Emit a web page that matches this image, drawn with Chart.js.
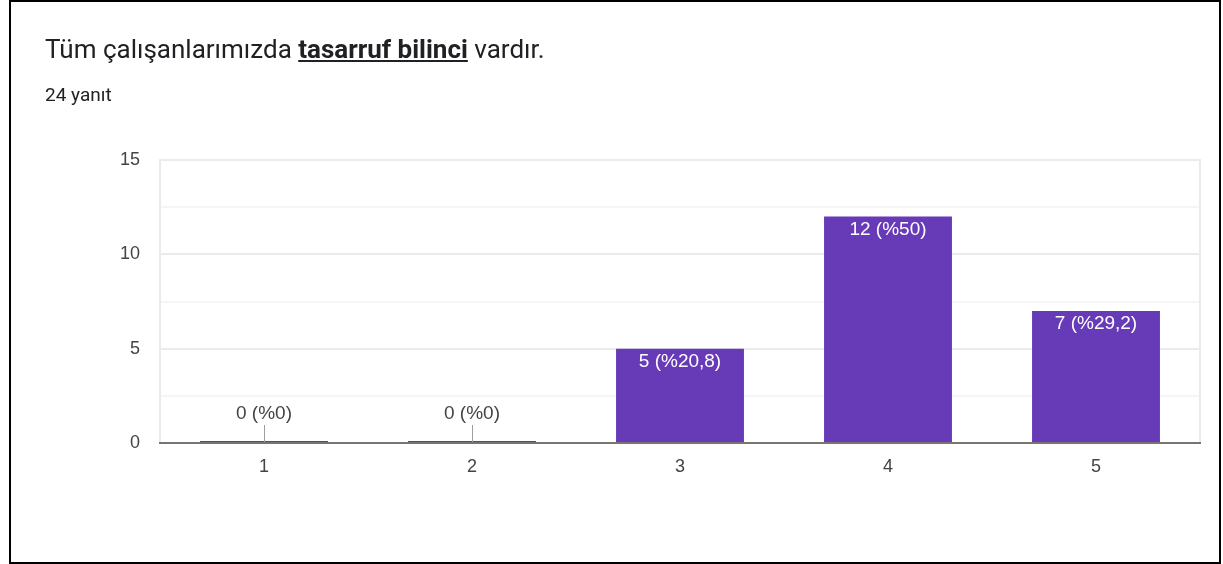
<!DOCTYPE html>
<html><head><meta charset="utf-8">
<script src="https://cdn.jsdelivr.net/npm/chart.js@4/dist/chart.umd.min.js"></script>
<style>
html,body{margin:0;padding:0;background:#fff;}
#frame{position:absolute;left:9px;top:0;width:1208px;height:560px;border:2px solid #000;box-sizing:content-box;}
#title{position:absolute;left:45px;top:33px;font-family:Roboto,sans-serif;font-size:26px;line-height:32px;color:#202124;white-space:nowrap;}
#title b{text-decoration:underline;font-weight:700;}
#sub{position:absolute;left:45px;top:83px;font-family:Roboto,sans-serif;font-size:19px;line-height:24px;color:#202124;}
#wrap{position:absolute;left:0;top:0;width:1223px;height:564px;}
</style></head>
<body>
<div id="frame"></div>
<div id="wrap"><canvas id="c" width="1223" height="564"></canvas></div>
<div id="title">Tüm çalışanlarımızda <b>tasarruf bilinci</b> vardır.</div>
<div id="sub">24 yanıt</div>
<script>
const categories = ['1','2','3','4','5'];
const counts = [0, 0, 5, 12, 7];
const yTicks = [0, 5, 10, 15];
const total = counts.reduce((a,b)=>a+b,0);

function pctLabel(v){
  let p = (v/total*100).toFixed(1).replace('.', ',');
  if (p.endsWith(',0')) p = p.slice(0,-2);
  return v + ' (%' + p + ')';
}

const FONT = '"Liberation Sans", Arial, sans-serif';

const labelPlugin = {
  id:'barLabels',
  afterDatasetsDraw(chart){
    const ctx = chart.ctx;
    const meta = chart.getDatasetMeta(0);
    const yScale = chart.scales.y;
    ctx.save();
    ctx.font = '19px ' + FONT;
    ctx.textAlign = 'center';
    ctx.textBaseline = 'middle';
    meta.data.forEach((bar,i)=>{
      const v = counts[i];
      const txt = pctLabel(v);
      if (v === 0){
        const base = yScale.getPixelForValue(0);
        ctx.strokeStyle = '#9e9e9e';
        ctx.lineWidth = 1;
        ctx.beginPath();
        ctx.moveTo(Math.round(bar.x)+0.5, base-1);
        ctx.lineTo(Math.round(bar.x)+0.5, base-18);
        ctx.stroke();
        ctx.fillStyle = '#444';
        ctx.fillText(txt, bar.x, base-29);
      } else {
        ctx.fillStyle = '#fff';
        ctx.fillText(txt, bar.x, bar.y+13);
      }
    });
    ctx.restore();
  }
};

new Chart(document.getElementById('c'), {
  type:'bar',
  data:{
    labels:categories,
    datasets:[{
      data:counts,
      backgroundColor:(c)=> counts[c.dataIndex]===0 ? '#555555' : '#673ab7',
      minBarLength:2,
      categoryPercentage:1,
      barPercentage:0.615,
      borderWidth:0
    }]
  },
  options:{
    responsive:false,
    animation:false,
    devicePixelRatio:1,
    layout:{padding:{left:0,top:160,right:23,bottom:81}},
    plugins:{legend:{display:false},tooltip:{enabled:false}},
    scales:{
      x:{
        afterFit(s){ s.height = 40; },
        grid:{display:false, drawTicks:false},
        border:{display:true, color:'#757575', width:2, z:1},
        ticks:{color:'#444', padding:13, font:{family:FONT, size:18}}
      },
      y:{
        min:0, max:15,
        afterFit(s){ s.width = 160; },
        afterBuildTicks(s){ s.ticks = [0,2.5,5,7.5,10,12.5,15].map(v=>({value:v})); },
        grid:{
          color:(c)=> (c.tick && yTicks.includes(c.tick.value)) ? '#ebebeb' : '#f5f5f5',
          lineWidth:(c)=> (c.tick && c.tick.value===0) ? 0 : 2,
          drawTicks:false
        },
        border:{display:true, color:'#ebebeb', width:2},
        ticks:{
          color:'#444', padding:20,
          font:{family:FONT, size:18},
          callback:(v)=> yTicks.includes(v) ? String(v) : ''
        }
      },
      y2:{
        position:'right', min:0, max:15,
        afterFit(s){ s.width = 0; },
        grid:{drawOnChartArea:false, drawTicks:false},
        border:{display:true, color:'#ebebeb', width:2},
        ticks:{display:false}
      }
    }
  },
  plugins:[labelPlugin]
});
</script>
</body></html>
